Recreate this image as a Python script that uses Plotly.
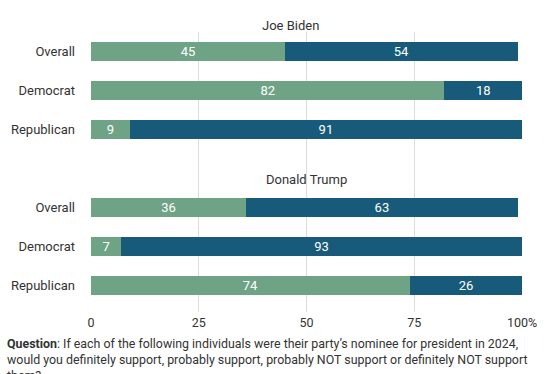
import plotly.graph_objects as go

groups = ["Joe Biden", "Donald Trump"]
categories = ["Overall", "Democrat", "Republican"]
support_biden = [45, 82, 9]
oppose_biden = [54, 18, 91]
support_trump = [36, 7, 74]
oppose_trump = [63, 93, 26]
x_ticks = [0, 25, 50, 75, 100]
x_tick_labels = ["0", "25", "50", "75", "100%"]

GREEN = "#6ea386"
BLUE = "#175a7a"

# numeric row positions: group 1 rows 0-2, gap, group 2 rows 4-6
ypos = [0, 1, 2, 4, 5, 6]
ylabels = categories + categories
support = support_biden + support_trump
oppose = oppose_biden + oppose_trump

fig = go.Figure()
for vals, col, nm in [(support, GREEN, "Support"), (oppose, BLUE, "Not support")]:
    fig.add_trace(go.Bar(
        y=ypos, x=vals, orientation="h", marker=dict(color=col, line=dict(width=0)),
        width=0.49, text=[str(v) for v in vals], textposition="inside",
        insidetextanchor="middle", textangle=0, constraintext="none",
        textfont=dict(color="white", size=13, family="Roboto"),
        name=nm, hoverinfo="skip"))

fig.update_layout(
    barmode="stack",
    width=549, height=374,
    margin=dict(l=91, r=27, t=32, b=62),
    paper_bgcolor="white", plot_bgcolor="white",
    showlegend=False,
    font=dict(family="Roboto", size=12, color="#333333"),
    xaxis=dict(range=[0, 100], tickvals=x_ticks, ticktext=x_tick_labels,
               showgrid=True, gridcolor="#dcdcdc", gridwidth=1, zeroline=False,
               showline=False, ticks="", tickfont=dict(size=12.5, color="#333333"),
               ticklabelstandoff=1, fixedrange=True, automargin=False),
    yaxis=dict(range=[6.69, -0.5], tickvals=ypos, ticktext=ylabels,
               showgrid=False, zeroline=False, showline=False, ticks="",
               ticklabelstandoff=15, tickfont=dict(size=13, color="#333333"),
               fixedrange=True, automargin=False),
)

fig.add_annotation(text=groups[0], xref="x", yref="paper", x=46.2, y=1.0,
                   yanchor="middle", yshift=7, showarrow=False,
                   font=dict(size=13, color="#333333"))
fig.add_annotation(text=groups[1], xref="x", yref="y", x=50, y=3.3,
                   showarrow=False, font=dict(size=13, color="#333333"))

fig.add_annotation(
    text=("<b>Question</b>: If each of the following individuals were their party’s nominee for president in 2024,<br>"
          "would you definitely support, probably support, probably NOT support or definitely NOT support<br>"
          "them?"),
    xref="paper", yref="paper", x=-86/431, y=-0.079, xanchor="left", yanchor="top",
    align="left", showarrow=False, font=dict(size=12.4, color="#333333"))

fig.write_html("out.html", config={"displayModeBar": False},
               post_script="document.body.style.margin='0';document.body.style.overflow='hidden';")
